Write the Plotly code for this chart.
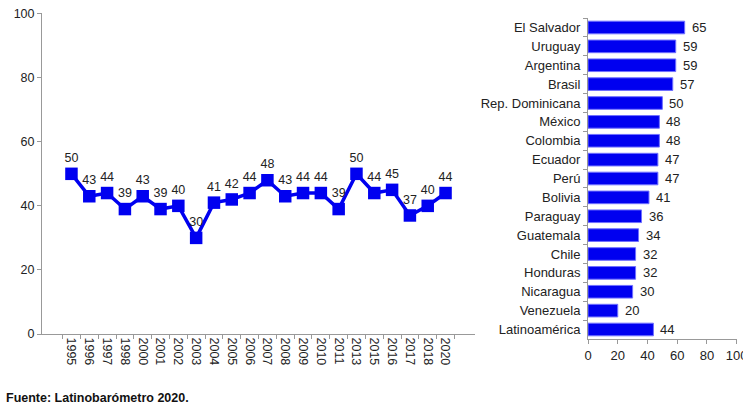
import plotly.graph_objects as go

years = ["1995","1996","1997","1998","2000","2001","2002","2003","2004","2005","2006",
         "2007","2008","2009","2010","2011","2013","2015","2016","2017","2018","2020"]
support = [50,43,44,39,43,39,40,30,41,42,44,48,43,44,44,39,50,44,45,37,40,44]

countries = ["El Salvador","Uruguay","Argentina","Brasil","Rep. Dominicana","México",
             "Colombia","Ecuador","Perú","Bolivia","Paraguay","Guatemala","Chile",
             "Honduras","Nicaragua","Venezuela","Latinoamérica"]
country_vals = [65,59,59,57,50,48,48,47,47,41,36,34,32,32,30,20,44]

W, H = 743, 409
BLUE = "#0000F0"
FONT = "Liberation Sans, Arial, sans-serif"

fig = go.Figure()
fig.add_trace(go.Scatter(
    x=years, y=support, mode="lines+markers+text",
    line=dict(color=BLUE, width=3.5),
    marker=dict(symbol="square", size=12.5, color=BLUE),
    text=[str(v) for v in support], textposition="top center",
    textfont=dict(size=12.5, color="#222222", family=FONT),
    xaxis="x", yaxis="y", showlegend=False, cliponaxis=False))

fig.add_trace(go.Bar(
    y=countries, x=country_vals, orientation="h",
    marker=dict(color=BLUE, line=dict(color="#7070ff", width=1)),
    xaxis="x2", yaxis="y2", showlegend=False, cliponaxis=False))

bar_labels = [dict(x=v, y=c, xref="x2", yref="y2", text=str(v), xanchor="left",
                   yanchor="middle", xshift=5, showarrow=False,
                   font=dict(size=13, color="#222222", family=FONT))
              for c, v in zip(countries, country_vals)]

axis_common = dict(showgrid=False, zeroline=False, showline=True, linecolor="#999999",
                   linewidth=1, ticks="outside", tickcolor="#999999", ticklen=4,
                   automargin=False, ticklabeloverflow="allow")
tf = dict(size=12.5, color="#222222", family=FONT)

fig.update_layout(
    width=W, height=H, margin=dict(l=0, r=0, t=0, b=0, pad=0, autoexpand=False),
    paper_bgcolor="white", plot_bgcolor="rgba(0,0,0,0)",
    font=dict(family=FONT, color="#222222"),
    bargap=0.33,
    xaxis=dict(domain=[42/W, 475/W], anchor="y", type="category", tickangle=90,
               tickson="boundaries", tickfont=tf, **axis_common),
    yaxis=dict(domain=[(H-334)/H, (H-13)/H], anchor="x", range=[0, 100.2],
               tickvals=[0, 20, 40, 60, 80, 100], tickfont=tf, **axis_common),
    xaxis2=dict(domain=[588/W, 737/W], anchor="y2", range=[0, 100.2],
                tickvals=[0, 20, 40, 60, 80, 100], tickfont=dict(tf, size=13), **axis_common),
    yaxis2=dict(domain=[(H-339)/H, (H-18)/H], anchor="x2", autorange="reversed",
                tickson="boundaries", ticklabelstandoff=4, tickfont=dict(tf, size=13),
                **axis_common),
    annotations=bar_labels + [dict(text="<b>Fuente: Latinobarómetro 2020.</b>", x=4/W, y=(H-398)/H,
                      xref="paper", yref="paper", xanchor="left", yanchor="middle",
                      showarrow=False, font=dict(size=12.5, color="#111111", family=FONT))],
)

fig.write_html("out.html", config={"displayModeBar": False},
               post_script="document.body.style.margin='0';document.body.style.overflow='hidden';")
